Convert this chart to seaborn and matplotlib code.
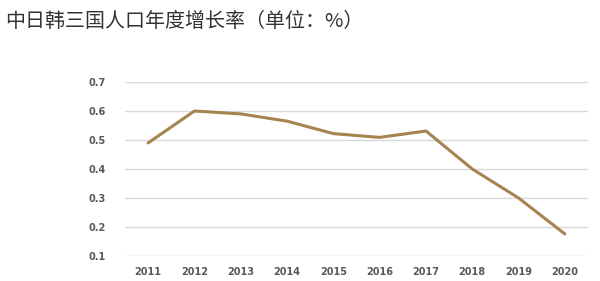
import matplotlib
matplotlib.use("Agg")
import matplotlib.pyplot as plt
import seaborn as sns
import pandas as pd

years = ["2011", "2012", "2013", "2014", "2015", "2016", "2017", "2018", "2019", "2020"]
growth = [0.49, 0.60, 0.59, 0.565, 0.522, 0.509, 0.531, 0.40, 0.30, 0.176]
yticks = [0.1, 0.2, 0.3, 0.4, 0.5, 0.6, 0.7]
title = "中日韩三国人口年度增长率（单位：%）"

sns.set_theme(style="white")
plt.rcParams['font.family'] = ['Noto Sans CJK SC', 'DejaVu Sans']

df = pd.DataFrame({"year": years, "growth": growth})

fig = plt.figure(figsize=(6, 2.81), dpi=100)
ax = fig.add_axes([125/600, 1-256/281, (588-125)/600, (256-82)/281])
sns.lineplot(data=df, x="year", y="growth", ax=ax, color="#A5844F", linewidth=2.2, sort=False)
ax.set_xlim(-0.5, len(years) - 0.5)
ax.set_ylim(0.1, 0.7)
ax.set_yticks(yticks)
ax.set_yticklabels([f"{t:.1f}" for t in yticks])
ax.yaxis.grid(True, color="#D9D9D9", linewidth=1)
ax.xaxis.grid(False)
for s in ax.spines.values():
    s.set_visible(False)
ax.tick_params(axis="both", length=0, labelsize=7, colors="#595959", pad=8)
ax.tick_params(axis="y", pad=14)
for lbl in ax.get_xticklabels() + ax.get_yticklabels():
    lbl.set_fontweight("bold")
    lbl.set_fontfamily(["DejaVu Sans"])
ax.set_xlabel("")
ax.set_ylabel("")
ax.set_axisbelow(True)

fig.text(5/600, 1-21/281, title, fontsize=14.4, color="#333333",
         va="center", ha="left")

fig.savefig("out.png", dpi=100)
